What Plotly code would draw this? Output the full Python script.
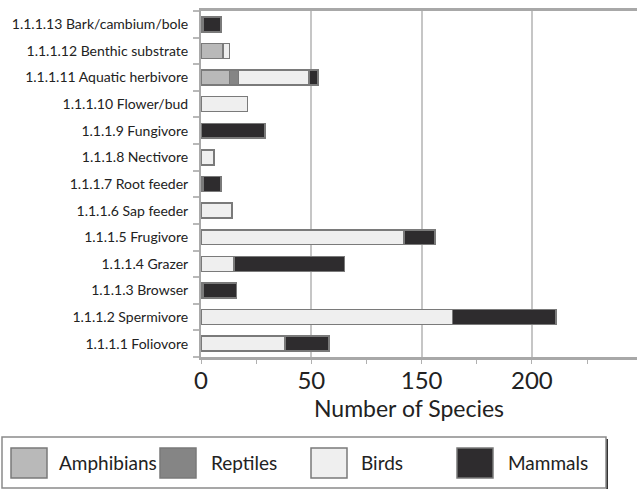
import plotly.graph_objects as go

categories = [
    "1.1.1.1 Foliovore",
    "1.1.1.2 Spermivore",
    "1.1.1.3 Browser",
    "1.1.1.4 Grazer",
    "1.1.1.5 Frugivore",
    "1.1.1.6 Sap feeder",
    "1.1.1.7 Root feeder",
    "1.1.1.8 Nectivore",
    "1.1.1.9 Fungivore",
    "1.1.1.10 Flower/bud",
    "1.1.1.11 Aquatic herbivore",
    "1.1.1.12 Benthic substrate",
    "1.1.1.13 Bark/cambium/bole",
]
amphibians = [0, 0, 0, 0, 0, 0, 0, 0, 0, 0, 13, 10, 0]
reptiles = [0, 0, 0, 0, 0, 0, 0, 0, 0, 0, 4, 0, 0]
birds = [38, 114, 1, 15, 92, 14, 1, 6, 0, 21, 32, 3, 1]
mammals = [20, 47, 15, 50, 14, 0, 8, 0, 29, 0, 4, 0, 8]

series_names = ["Amphibians", "Reptiles", "Birds", "Mammals"]
series_values = [amphibians, reptiles, birds, mammals]
series_colors = ["#b9b9b9", "#858585", "#efefef", "#2e2c2e"]

tick_vals = [0, 50, 100, 150]
tick_text = ["0", "50", "150", "200"]

FONT = "Lato, 'Open Sans', sans-serif"
W, H = 637, 490
L, R, T, B = 201, 0, 11, 133
PW, PH = W - L - R, H - T - B


def px(x):
    return (x - L) / PW


def py(y):
    return (H - B - y) / PH


fig = go.Figure()
for name, vals, col in zip(series_names, series_values, series_colors):
    fig.add_trace(go.Bar(
        y=categories, x=vals, name=name, orientation="h",
        marker=dict(color=col, line=dict(color="#7a7a7a", width=1.5)),
        width=0.56, showlegend=False,
    ))

fig.update_layout(
    width=W, height=H,
    margin=dict(l=L, r=R, t=T, b=B),
    barmode="stack",
    plot_bgcolor="white", paper_bgcolor="white",
    font=dict(family=FONT, color="#222"),
    xaxis=dict(
        range=[0, PW / 2.206],
        tickvals=tick_vals, ticktext=tick_text,
        tickfont=dict(size=24, color="#222"),
        showgrid=True, gridcolor="#c6c6c6", gridwidth=1.5,
        showline=True, linecolor="#a8a8a8", linewidth=2.5, mirror=True,
        zeroline=False, ticks="", ticklabelstandoff=0,
        minor=dict(dtick=25, tick0=0, ticks="outside", ticklen=4,
                   tickcolor="#b0b0b0", showgrid=False),
    ),
    yaxis=dict(
        categoryorder="array", categoryarray=categories,
        tickfont=dict(size=14, color="#222"),
        showline=True, linecolor="#a8a8a8", linewidth=2,
        ticks="outside", tickson="boundaries", ticklen=6,
        tickcolor="#b8b8b8", tickwidth=1.5,
        ticklabelstandoff=8, showgrid=False, zeroline=False,
    ),
)

# x-axis title
fig.add_annotation(text="Number of Species", xref="paper", yref="paper",
                   x=px(409), y=py(408), showarrow=False,
                   font=dict(size=23, color="#222", family=FONT),
                   xanchor="center", yanchor="middle")

# legend box with shadow
fig.add_shape(type="line", xref="paper", yref="paper",
              x0=px(607), x1=px(607), y0=py(439), y1=py(489),
              line=dict(color="#333", width=2))
fig.add_shape(type="rect", xref="paper", yref="paper",
              x0=px(2), x1=px(606), y0=py(488), y1=py(437),
              line=dict(color="#8a8a8a", width=1.5), fillcolor="white")

swatch_x = [11, 160, 311, 457]
text_x = [57, 209, 359, 506]
for name, col, sx, tx in zip(series_names, series_colors, swatch_x, text_x):
    fig.add_shape(type="rect", xref="paper", yref="paper",
                  x0=px(sx), x1=px(sx + 36), y0=py(478), y1=py(448),
                  line=dict(color="#7a7a7a", width=1.5), fillcolor=col)
    fig.add_annotation(text=name, xref="paper", yref="paper",
                       x=px(tx), y=py(463), showarrow=False,
                       xanchor="left", yanchor="middle",
                       font=dict(size=19, color="#222", family=FONT))

fig.write_html("out.html", config={"displayModeBar": False},
               post_script="document.body.style.margin='0px';")
